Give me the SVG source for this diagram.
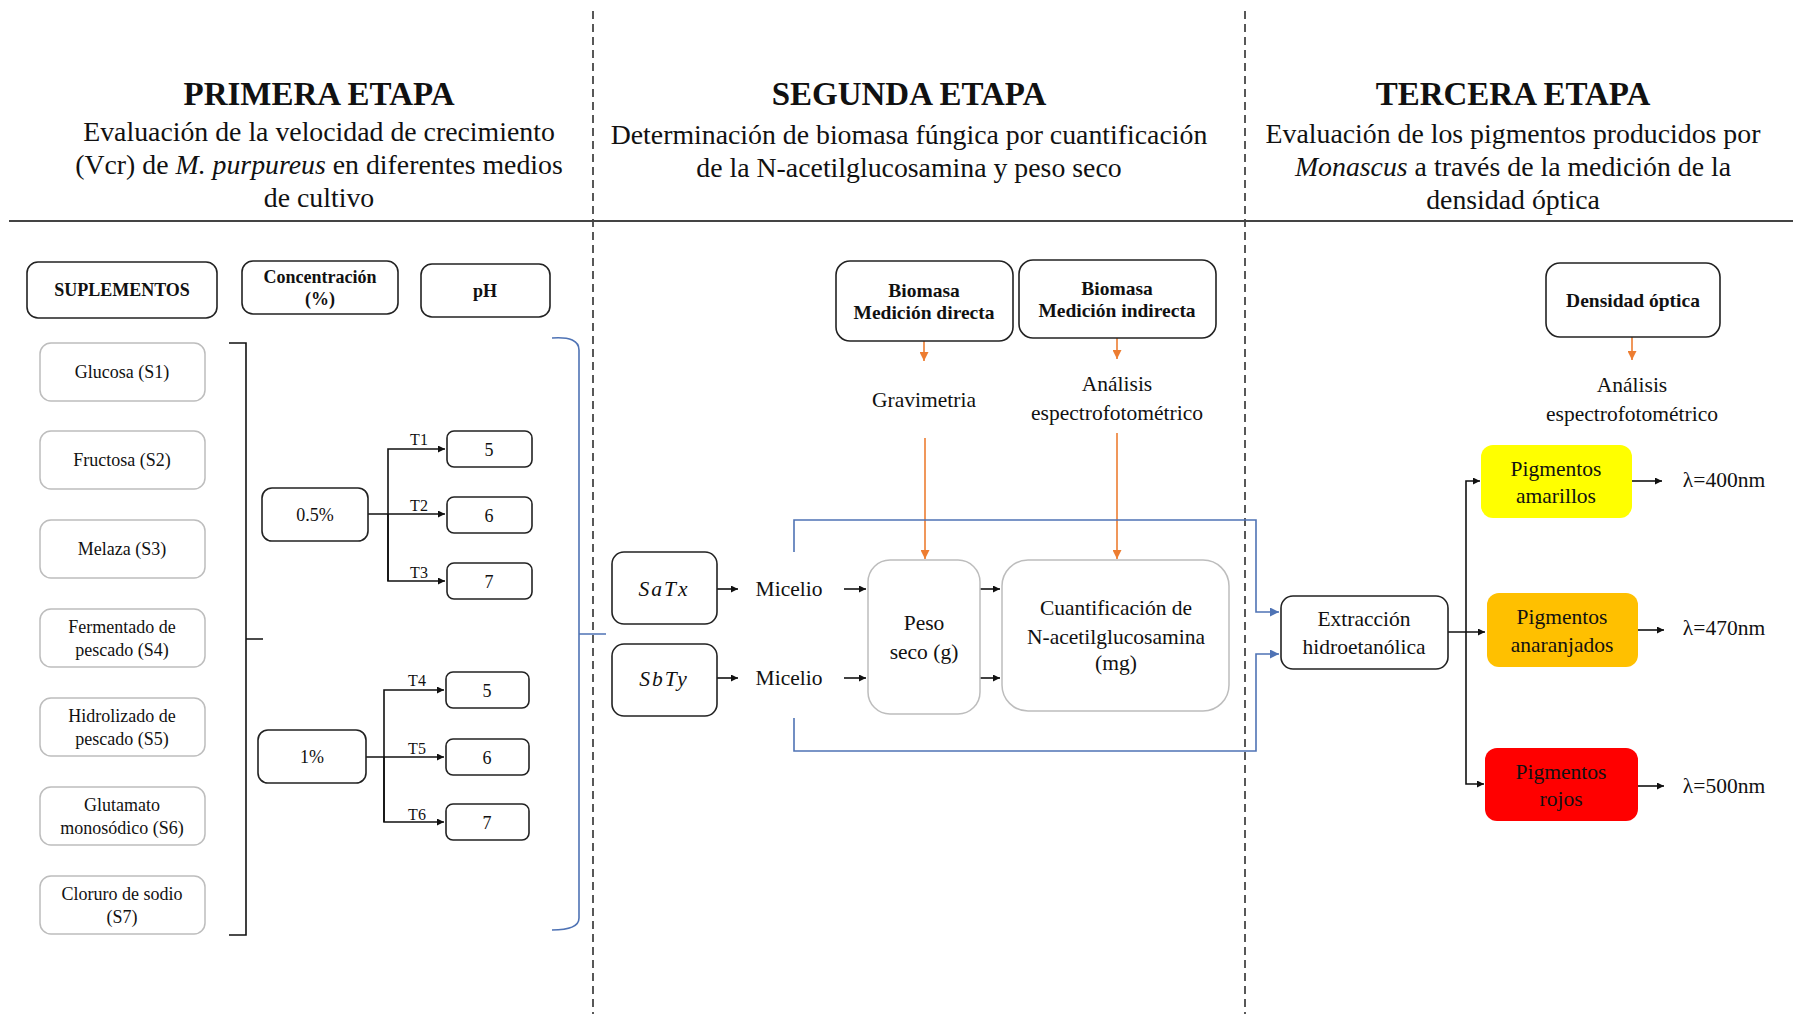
<svg xmlns="http://www.w3.org/2000/svg" width="1793" height="1014" viewBox="0 0 1793 1014">
<style>
text{font-family:"Liberation Serif","Times New Roman",serif;fill:#111;text-anchor:middle;dominant-baseline:central}
.title{font-size:33px;font-weight:bold;dominant-baseline:auto}
.sub{font-size:27.8px;dominant-baseline:auto}
.b{font-weight:bold}
.it{font-style:italic}
.hdr{fill:#fff;stroke:#222;stroke-width:1.6}
.lite{fill:#fff;stroke:#bdbdbd;stroke-width:1.5}
.sm{font-size:18px}
.md{font-size:21.5px}
.lg{font-size:21.5px}
.ln{fill:none;stroke:#111;stroke-width:1.6}
.or{fill:none;stroke:#ED7D31;stroke-width:1.6}
.bl{fill:none;stroke:#4F73B5;stroke-width:1.6}
</style>
<defs>
<marker id="ab" viewBox="0 0 10 10" refX="10" refY="5" markerWidth="7" markerHeight="7" orient="auto" markerUnits="userSpaceOnUse"><path d="M0,0L10,5L0,10z" fill="#111"/></marker>
<marker id="ao" viewBox="0 0 10 10" refX="10" refY="5" markerWidth="9" markerHeight="9" orient="auto" markerUnits="userSpaceOnUse"><path d="M0,0L10,5L0,10z" fill="#ED7D31"/></marker>
<marker id="abl" viewBox="0 0 10 10" refX="10" refY="5" markerWidth="9" markerHeight="9" orient="auto" markerUnits="userSpaceOnUse"><path d="M0,0L10,5L0,10z" fill="#4F73B5"/></marker>
</defs>
<rect width="1793" height="1014" fill="#fff"/>

<g id="layout">
<line x1="593" y1="11" x2="593" y2="1014" stroke="#222" stroke-width="1.5" stroke-dasharray="8,5"/>
<line x1="1245" y1="11" x2="1245" y2="1014" stroke="#222" stroke-width="1.5" stroke-dasharray="8,5"/>
<line x1="9" y1="221" x2="1793" y2="221" stroke="#444" stroke-width="2"/>
</g>

<g id="header1">
<text class="title" x="319" y="105">PRIMERA ETAPA</text>
<text class="sub" x="319" y="141">Evaluación de la velocidad de crecimiento</text>
<text class="sub" x="319" y="174">(Vcr) de <tspan font-style="italic">M. purpureus</tspan> en diferentes medios</text>
<text class="sub" x="319" y="207">de cultivo</text>
</g>
<g id="header2">
<text class="title" x="909" y="105">SEGUNDA ETAPA</text>
<text class="sub" x="909" y="144">Determinación de biomasa fúngica por cuantificación</text>
<text class="sub" x="909" y="177">de la N-acetilglucosamina y peso seco</text>
</g>
<g id="header3">
<text class="title" x="1513" y="105">TERCERA ETAPA</text>
<text class="sub" x="1513" y="143">Evaluación de los pigmentos  producidos por</text>
<text class="sub" x="1513" y="176"><tspan font-style="italic">Monascus</tspan> a través de la medición de la</text>
<text class="sub" x="1513" y="209">densidad óptica</text>
</g>

<g id="connectors">
<path class="ln" d="M229,343H246V935H229M246,639H263"/>
<path class="bl" d="M552,338Q579,336 579,350V918Q579,930 552,930M579,634H606"/>
<path class="ln" d="M368,514H445" marker-end="url(#ab)"/>
<path class="ln" d="M388,581V449H445" marker-end="url(#ab)"/>
<path class="ln" d="M388,514V581H445" marker-end="url(#ab)"/>
<path class="ln" d="M366,757H444" marker-end="url(#ab)"/>
<path class="ln" d="M384,822V690H444" marker-end="url(#ab)"/>
<path class="ln" d="M384,757V822H444" marker-end="url(#ab)"/>
<path class="or" d="M924,341V361" marker-end="url(#ao)"/>
<path class="or" d="M1117,338V359" marker-end="url(#ao)"/>
<path class="or" d="M925,438V559" marker-end="url(#ao)"/>
<path class="or" d="M1117,433V559" marker-end="url(#ao)"/>
<path class="ln" d="M717,589H738" marker-end="url(#ab)"/>
<path class="ln" d="M717,678H738" marker-end="url(#ab)"/>
<path class="ln" d="M844,589H866" marker-end="url(#ab)"/>
<path class="ln" d="M844,678H866" marker-end="url(#ab)"/>
<path class="ln" d="M980,589H1000" marker-end="url(#ab)"/>
<path class="ln" d="M980,678H1000" marker-end="url(#ab)"/>
<path class="bl" d="M794,552V520H1256V612H1279" marker-end="url(#abl)"/>
<path class="bl" d="M794,718V751H1256V654H1279" marker-end="url(#abl)"/>
<path class="ln" d="M1448,632H1485" marker-end="url(#ab)"/>
<path class="ln" d="M1466,632V481H1480" marker-end="url(#ab)"/>
<path class="ln" d="M1466,632V784H1484" marker-end="url(#ab)"/>
<path class="or" d="M1632,337V360" marker-end="url(#ao)"/>
<path class="ln" d="M1632,481H1662" marker-end="url(#ab)"/>
<path class="ln" d="M1638,630H1664" marker-end="url(#ab)"/>
<path class="ln" d="M1638,786H1664" marker-end="url(#ab)"/>
</g>

<g id="n-suplementos"><rect class="hdr" x="27" y="262" width="190" height="56" rx="11"/><text class="b" x="122" y="290" font-size="18">SUPLEMENTOS</text></g>
<g id="n-concentracion"><rect class="hdr" x="242" y="261" width="156" height="53" rx="11"/><text class="b" x="320" y="277" font-size="18">Concentración</text><text class="b" x="320" y="299" font-size="18">(%)</text></g>
<g id="n-ph"><rect class="hdr" x="421" y="264" width="129" height="53" rx="11"/><text class="b" x="485" y="291" font-size="18">pH</text></g>

<g id="n-s1"><rect class="lite" x="40" y="343" width="165" height="58" rx="11"/><text class="sm" x="122" y="372">Glucosa (S1)</text></g>
<g id="n-s2"><rect class="lite" x="40" y="431" width="165" height="58" rx="11"/><text class="sm" x="122" y="460">Fructosa (S2)</text></g>
<g id="n-s3"><rect class="lite" x="40" y="520" width="165" height="58" rx="11"/><text class="sm" x="122" y="549">Melaza (S3)</text></g>
<g id="n-s4"><rect class="lite" x="40" y="609" width="165" height="58" rx="11"/><text class="sm" x="122" y="627">Fermentado de</text><text class="sm" x="122" y="650">pescado (S4)</text></g>
<g id="n-s5"><rect class="lite" x="40" y="698" width="165" height="58" rx="11"/><text class="sm" x="122" y="716">Hidrolizado de</text><text class="sm" x="122" y="739">pescado (S5)</text></g>
<g id="n-s6"><rect class="lite" x="40" y="787" width="165" height="58" rx="11"/><text class="sm" x="122" y="805">Glutamato</text><text class="sm" x="122" y="828">monosódico (S6)</text></g>
<g id="n-s7"><rect class="lite" x="40" y="876" width="165" height="58" rx="11"/><text class="sm" x="122" y="894">Cloruro de sodio</text><text class="sm" x="122" y="917">(S7)</text></g>

<g id="n-c05"><rect class="hdr" x="262" y="488" width="106" height="53" rx="10"/><text class="sm" x="315" y="515">0.5%</text></g>
<g id="n-c1"><rect class="hdr" x="258" y="730" width="108" height="53" rx="10"/><text class="sm" x="312" y="757">1%</text></g>

<g id="lbl-t">
<text x="419" y="439" font-size="16">T1</text>
<text x="419" y="505" font-size="16">T2</text>
<text x="419" y="572" font-size="16">T3</text>
<text x="417" y="680" font-size="16">T4</text>
<text x="417" y="748" font-size="16">T5</text>
<text x="417" y="814" font-size="16">T6</text>
</g>

<g id="n-ph1"><rect class="hdr" x="447" y="431" width="85" height="36" rx="7"/><text class="sm" x="489" y="450">5</text></g>
<g id="n-ph2"><rect class="hdr" x="447" y="497" width="85" height="36" rx="7"/><text class="sm" x="489" y="516">6</text></g>
<g id="n-ph3"><rect class="hdr" x="447" y="563" width="85" height="36" rx="7"/><text class="sm" x="489" y="582">7</text></g>
<g id="n-ph4"><rect class="hdr" x="446" y="672" width="83" height="36" rx="7"/><text class="sm" x="487" y="691">5</text></g>
<g id="n-ph5"><rect class="hdr" x="446" y="739" width="83" height="36" rx="7"/><text class="sm" x="487" y="758">6</text></g>
<g id="n-ph6"><rect class="hdr" x="446" y="804" width="83" height="36" rx="7"/><text class="sm" x="487" y="823">7</text></g>

<g id="n-directa"><rect class="hdr" x="836" y="261" width="177" height="80" rx="14"/><text class="b" x="924" y="290" font-size="19.5">Biomasa</text><text class="b" x="924" y="312" font-size="19.5">Medición directa</text></g>
<g id="n-indirecta"><rect class="hdr" x="1019" y="260" width="197" height="78" rx="14"/><text class="b" x="1117" y="288" font-size="19.5">Biomasa</text><text class="b" x="1117" y="310" font-size="19.5">Medición indirecta</text></g>
<g id="lbl-grav"><text class="md" x="924" y="400">Gravimetria</text></g>
<g id="lbl-anal1"><text class="md" x="1117" y="384">Análisis</text><text class="md" x="1117" y="413">espectrofotométrico</text></g>

<g id="n-satx"><rect class="hdr" x="612" y="552" width="105" height="72" rx="12"/><text class="lg it" x="664" y="589" letter-spacing="2">SaTx</text></g>
<g id="n-sbty"><rect class="hdr" x="612" y="644" width="105" height="72" rx="12"/><text class="lg it" x="664" y="679" letter-spacing="2">SbTy</text></g>
<g id="lbl-micelio1"><text class="lg" x="789" y="589">Micelio</text></g>
<g id="lbl-micelio2"><text class="lg" x="789" y="678">Micelio</text></g>
<g id="n-peso"><rect class="lite" x="868" y="560" width="112" height="154" rx="22"/><text class="md" x="924" y="623">Peso</text><text class="md" x="924" y="652">seco (g)</text></g>
<g id="n-cuant"><rect class="lite" x="1002" y="560" width="227" height="151" rx="26"/><text class="md" x="1116" y="608">Cuantificación  de</text><text class="md" x="1116" y="637">N-acetilglucosamina</text><text class="md" x="1116" y="663">(mg)</text></g>

<g id="n-densidad"><rect class="hdr" x="1546" y="263" width="174" height="74" rx="14"/><text class="b" x="1633" y="300" font-size="19.5">Densidad óptica</text></g>
<g id="lbl-anal2"><text class="md" x="1632" y="385">Análisis</text><text class="md" x="1632" y="414">espectrofotométrico</text></g>
<g id="n-extraccion"><rect class="hdr" x="1281" y="596" width="167" height="73" rx="12"/><text class="md" x="1364" y="619">Extracción</text><text class="md" x="1364" y="647">hidroetanólica</text></g>
<g id="n-amarillos"><rect x="1481" y="445" width="151" height="73" rx="12" fill="#FFFF00"/><text class="md" x="1556" y="469">Pigmentos</text><text class="md" x="1556" y="496">amarillos</text></g>
<g id="n-anaranjados"><rect x="1487" y="593" width="151" height="74" rx="12" fill="#FFC000"/><text class="md" x="1562" y="617">Pigmentos</text><text class="md" x="1562" y="645">anaranjados</text></g>
<g id="n-rojos"><rect x="1485" y="748" width="153" height="73" rx="12" fill="#FF0000"/><text class="md" x="1561" y="772" fill="#7a0000">Pigmentos</text><text class="md" x="1561" y="799" fill="#7a0000">rojos</text></g>
<g id="lbl-l400"><text class="md" x="1724" y="480">λ=400nm</text></g>
<g id="lbl-l470"><text class="md" x="1724" y="628">λ=470nm</text></g>
<g id="lbl-l500"><text class="md" x="1724" y="786">λ=500nm</text></g>
</svg>
